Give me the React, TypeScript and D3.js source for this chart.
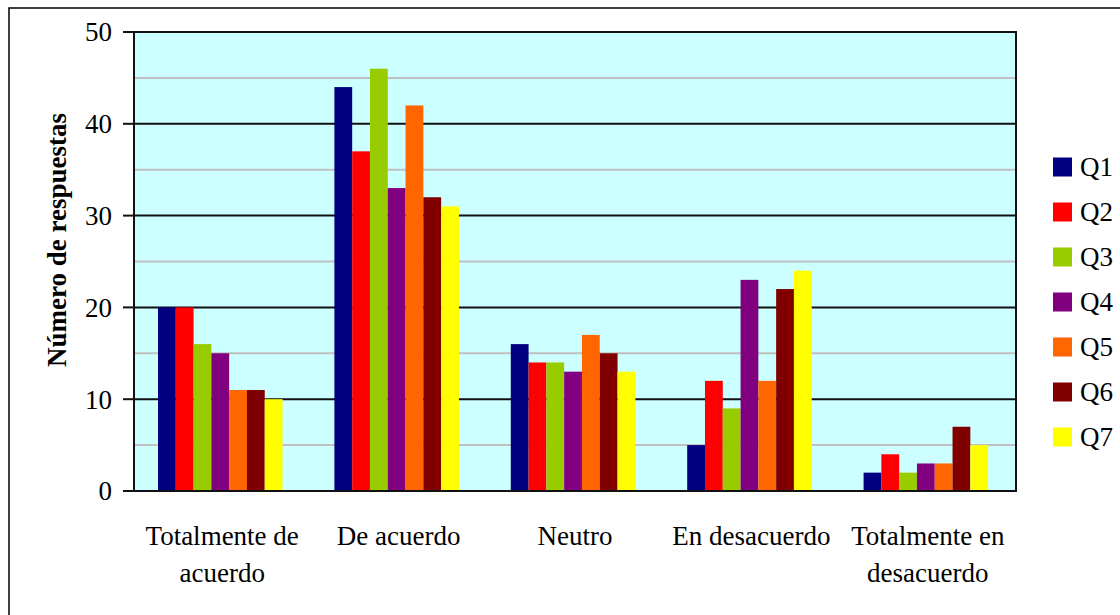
import React from 'react';
import * as d3 from 'd3';

// categories on the x axis (each label split into lines)
const categories = ['Totalmente de acuerdo', 'De acuerdo', 'Neutro', 'En desacuerdo', 'Totalmente en desacuerdo'];
const categoryLines = [
  ['Totalmente de', 'acuerdo'],
  ['De acuerdo'],
  ['Neutro'],
  ['En desacuerdo'],
  ['Totalmente en', 'desacuerdo'],
];

const seriesNames = ['Q1', 'Q2', 'Q3', 'Q4', 'Q5', 'Q6', 'Q7'];
const seriesColors = ['#000080', '#FF0000', '#99CC00', '#800080', '#FF6600', '#800000', '#FFFF00'];

// values per series, in category order
const q1 = [20, 44, 16, 5, 2];
const q2 = [20, 37, 14, 12, 4];
const q3 = [16, 46, 14, 9, 2];
const q4 = [15, 33, 13, 23, 3];
const q5 = [11, 42, 17, 12, 3];
const q6 = [11, 32, 15, 22, 7];
const q7 = [10, 31, 13, 24, 5];
const seriesValues = [q1, q2, q3, q4, q5, q6, q7];

const yTicks = [0, 10, 20, 30, 40, 50];
const yMinor = [5, 15, 25, 35, 45];

const App: React.FC = () => {
  const W = 1120;
  const H = 615;
  const plot = { left: 134, right: 1016, top: 32, bottom: 491 };
  const font = '"Liberation Serif", "Times New Roman", serif';
  const fs = 27;

  const x0 = d3.scaleBand<string>().domain(categories).range([plot.left, plot.right]).padding(0);
  const bw = x0.bandwidth();
  const x1 = d3.scaleBand<string>().domain(seriesNames).range([bw * 0.136, bw * 0.842]).padding(0);
  const y = d3.scaleLinear().domain([0, 50]).range([plot.bottom, plot.top]);

  const legendY = d3.scalePoint<string>().domain(seriesNames).range([167, 437]);

  return (
    <svg width={W} height={H} style={{ position: 'absolute', left: 0, top: 0 }} fontFamily={font}>
      <rect x={0} y={0} width={W} height={H} fill="#fff" />
      {/* outer chart border */}
      <rect x={9} y={8} width={W + 50} height={H + 50} fill="none" stroke="#000" strokeWidth={1.5} />

      {/* plot area */}
      <rect x={plot.left} y={plot.top} width={plot.right - plot.left} height={plot.bottom - plot.top} fill="#CCFFFF" />
      {yMinor.map((t) => (
        <line key={'m' + t} x1={plot.left} x2={plot.right} y1={y(t)} y2={y(t)} stroke="#C0C0C0" strokeWidth={2} />
      ))}
      {yTicks.map((t) => (
        <line key={'g' + t} x1={plot.left} x2={plot.right} y1={y(t)} y2={y(t)} stroke="#111" strokeWidth={2} />
      ))}

      {/* bars */}
      {categories.map((c, ci) => (
        <g key={c} transform={`translate(${x0(c)},0)`}>
          {seriesNames.map((s, si) => {
            const v = seriesValues[si][ci];
            return (
              <rect
                key={s}
                x={x1(s)}
                y={y(v)}
                width={x1.bandwidth()}
                height={y(0) - y(v)}
                fill={seriesColors[si]}
              />
            );
          })}
        </g>
      ))}

      {/* plot border */}
      <rect
        x={plot.left}
        y={plot.top}
        width={plot.right - plot.left}
        height={plot.bottom - plot.top}
        fill="none"
        stroke="#111"
        strokeWidth={2}
      />

      {/* y axis ticks and labels */}
      {yTicks.map((t) => (
        <g key={'t' + t}>
          <line x1={plot.left - 11} x2={plot.left} y1={y(t)} y2={y(t)} stroke="#111" strokeWidth={2} />
          <text x={112} y={y(t)} dy="0.35em" textAnchor="end" fontSize={fs}>
            {t}
          </text>
        </g>
      ))}
      <text transform={`translate(66,240) rotate(-90)`} textAnchor="middle" fontSize={fs} fontWeight="bold">
        Número de respuestas
      </text>

      {/* x axis labels */}
      {categories.map((c, ci) => (
        <text key={'x' + c} x={(x0(c) as number) + bw / 2} y={545} textAnchor="middle" fontSize={fs}>
          {categoryLines[ci].map((ln, li) => (
            <tspan key={li} x={(x0(c) as number) + bw / 2} dy={li === 0 ? 0 : 37}>
              {ln}
            </tspan>
          ))}
        </text>
      ))}

      {/* legend */}
      {seriesNames.map((s, si) => (
        <g key={'l' + s} transform={`translate(0,${legendY(s)})`}>
          <rect x={1053} y={-9.5} width={19} height={19} fill={seriesColors[si]} />
          <text x={1080} y={0} dy="0.35em" fontSize={fs}>
            {s}
          </text>
        </g>
      ))}
    </svg>
  );
};

export default App;
